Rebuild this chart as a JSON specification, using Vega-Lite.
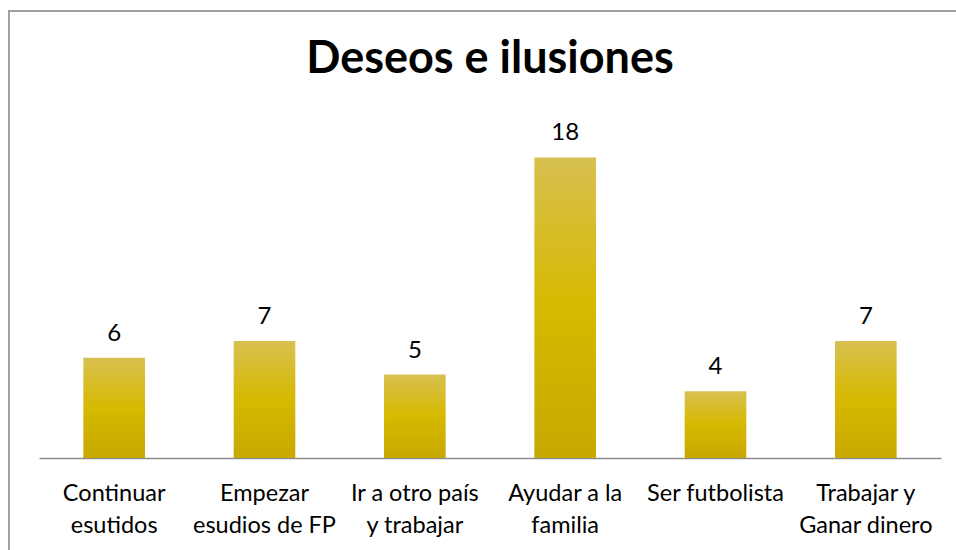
{
  "$schema": "https://vega.github.io/schema/vega-lite/v6.json",
  "width": 950,
  "height": 550,
  "autosize": {"type": "none"},
  "padding": {"left": 9, "top": 11, "right": 0, "bottom": 0},
  "background": "white",
  "config": {
    "view": {"stroke": "#A0A0A0", "strokeWidth": 2},
    "font": "Lato"
  },
  "title": {
    "text": "Deseos e ilusiones",
    "font": "Lato",
    "fontSize": 45,
    "fontWeight": "bold",
    "color": "black",
    "anchor": "middle",
    "baseline": "alphabetic",
    "offset": -107,
    "dx": 6
  },
  "data": {
    "values": [
      {"deseo": "Continuar\nesutidos", "valor": 6},
      {"deseo": "Empezar\nesudios de FP", "valor": 7},
      {"deseo": "Ir a otro país\ny trabajar", "valor": 5},
      {"deseo": "Ayudar a la\nfamilia", "valor": 18},
      {"deseo": "Ser futbolista", "valor": 4},
      {"deseo": "Trabajar y\nGanar dinero", "valor": 7}
    ]
  },
  "encoding": {
    "x": {
      "field": "deseo",
      "type": "nominal",
      "sort": null,
      "scale": {"range": [30, 932], "paddingInner": 0.59, "paddingOuter": 0.295},
      "axis": {
        "title": null,
        "orient": "bottom",
        "offset": -103,
        "domainColor": "#8C8C8C",
        "domainWidth": 1.5,
        "ticks": false,
        "labelAngle": 0,
        "labelFont": "Lato",
        "labelFontSize": 23.5,
        "labelColor": "black",
        "labelPadding": 42,
        "labelLineHeight": 32,
        "labelLimit": 300,
        "labelBaseline": "alphabetic",
        "labelExpr": "split(datum.label, '\\n')"
      }
    },
    "y": {
      "field": "valor",
      "type": "quantitative",
      "scale": {"domain": [0, 20], "range": [447, 113], "nice": false, "zero": true},
      "axis": null
    }
  },
  "layer": [
    {
      "mark": {
        "type": "bar",
        "color": {
          "gradient": "linear",
          "x1": 0, "y1": 0, "x2": 0, "y2": 1,
          "stops": [
            {"offset": 0, "color": "#D8C050"},
            {"offset": 0.5, "color": "#D6B900"},
            {"offset": 1, "color": "#C8A800"}
          ]
        }
      }
    },
    {
      "mark": {"type": "text", "dy": -17, "baseline": "alphabetic", "fontSize": 24, "font": "Lato", "color": "black"},
      "encoding": {"text": {"field": "valor", "type": "quantitative"}}
    }
  ]
}
